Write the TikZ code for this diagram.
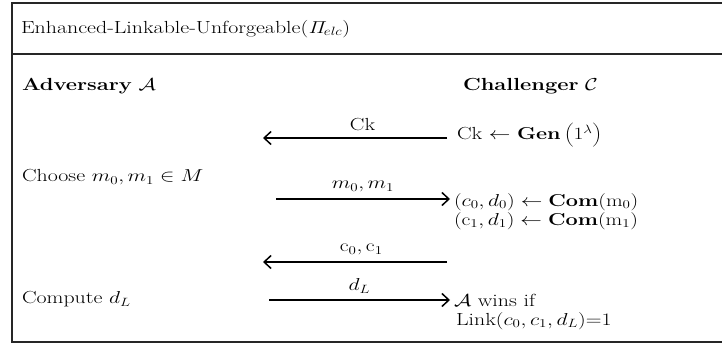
\documentclass[tikz,border=0pt]{standalone}
\usetikzlibrary{arrows.meta}
\begin{document}
\begin{tikzpicture}[x=1pt,y=-1pt,
  every node/.style={inner sep=0pt, outer sep=0pt, xscale=1.25, font=\fontsize{17.5}{21}\selectfont},
  lbl/.style={anchor=west},
  msg/.style={line width=1.5pt, -{Straight Barb[length=7pt,width=13pt,line width=1.5pt]}},
  frame/.style={line width=1.5pt, draw=black!85}]
\useasboundingbox (0,0) rectangle (722,348);
\draw[frame] (722,3) -- (12,3) -- (12,342) -- (722,342);
\draw[frame] (12,54) -- (722,54);
\node[lbl] (title) at (21,29) {Enhanced-Linkable-Unforgeable($\mathit{\Pi}_{elc}$)};
\node[lbl] (adv) at (22,86) {\textbf{Adversary} $\mathcal{A}$};
\node[lbl] (chal) at (463,86) {\textbf{Challenger} $\mathcal{C}$};
\node[lbl] (gen) at (457,135) {Ck $\leftarrow$ $\mathbf{Gen}\left(\rule[-8pt]{0pt}{25pt}1^{\lambda}\right)$};
\node[lbl] (choose) at (22,177) {Choose $m_0,m_1\in M$};
\node[lbl] (com0) at (454,202) {$(c_0,d_0)\leftarrow\mathbf{Com}(\mathrm{m}_0)$};
\node[lbl] (com1) at (454,221) {$(\mathrm{c}_1,d_1)\leftarrow\mathbf{Com}(\mathrm{m}_1)$};
\node[lbl] (compute) at (22,299) {Compute $d_L$};
\node[lbl] (wins) at (454,300) {$\mathcal{A}$ wins if};
\node[lbl] (link) at (456,321) {Link$(c_0,c_1,d_L)$=1};
\coordinate (a1s) at (447,138); \coordinate (a1e) at (263,138);
\coordinate (a2s) at (276,199); \coordinate (a2e) at (450,199);
\coordinate (a3s) at (447,262); \coordinate (a3e) at (263,262);
\coordinate (a4s) at (269,300); \coordinate (a4e) at (450,300);
\draw[msg] (a1s) -- node[above=7pt, xshift=6pt] (l1) {Ck} (a1e);
\draw[msg] (a2s) -- node[above=7pt] (l2) {$m_0,m_1$} (a2e);
\draw[msg] (a3s) -- node[above=7pt, xshift=5pt] (l3) {$\mathrm{c}_0,\mathrm{c}_1$} (a3e);
\draw[msg] (a4s) -- node[above=7pt] (l4) {$d_L$} (a4e);
\end{tikzpicture}
\end{document}
